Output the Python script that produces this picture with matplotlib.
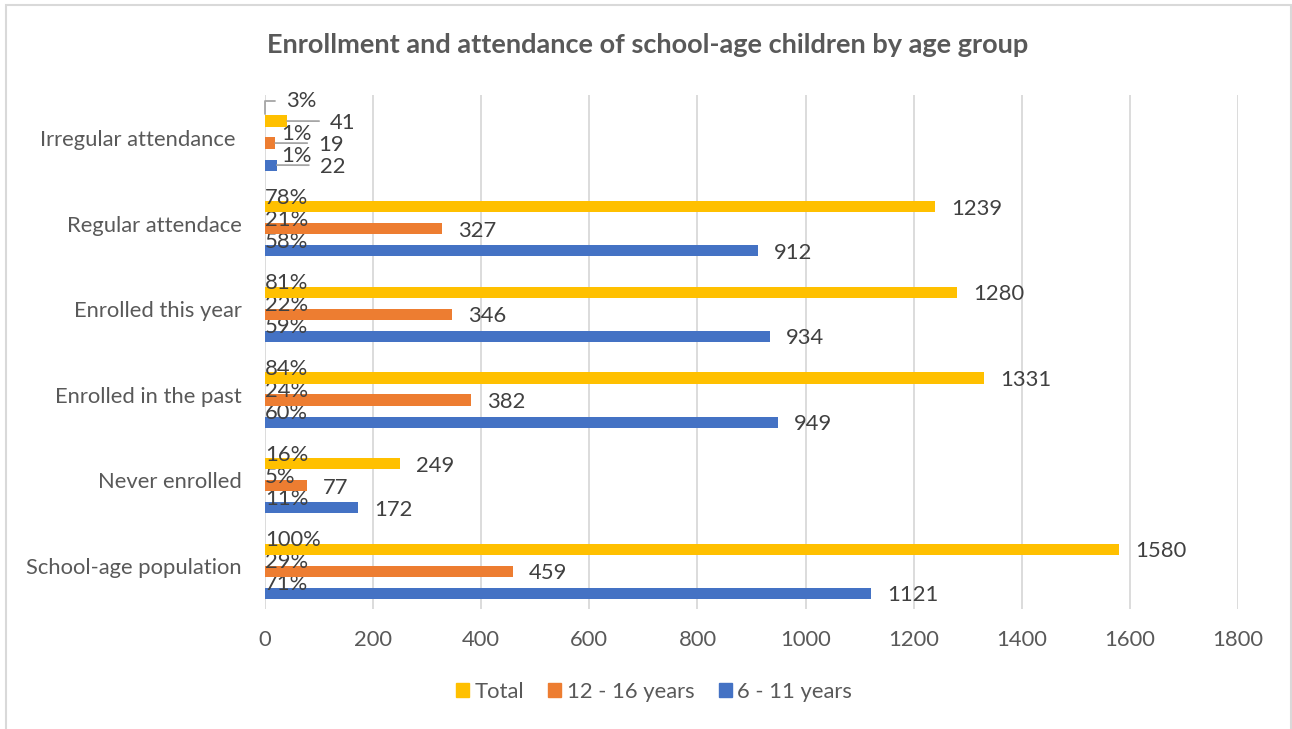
import matplotlib
matplotlib.use("Agg")
import matplotlib.pyplot as plt
from matplotlib.patches import Rectangle, Patch

plt.rcParams['font.family'] = ['Lato', 'DejaVu Sans']

# --- DATA ---
categories = ["School-age population", "Never enrolled", "Enrolled in the past",
              "Enrolled this year", "Regular attendace", "Irregular attendance "]
age_6_11 = [1121, 172, 949, 934, 912, 22]
age_12_16 = [459, 77, 382, 346, 327, 19]
total = [1580, 249, 1331, 1280, 1239, 41]
series_names = ["6 - 11 years", "12 - 16 years", "Total"]
xticks = [0, 200, 400, 600, 800, 1000, 1200, 1400, 1600, 1800]

population = total[0]
colors = ["#4472C4", "#ED7D31", "#FFC000"]
text_col = "#404040"
axis_col = "#595959"
grid_col = "#D9D9D9"
fs = 15.8

fig = plt.figure(figsize=(12.92, 7.29), dpi=100)
ax = fig.add_axes([265 / 1292, 1 - 609 / 729, 973 / 1292, 514 / 729])

# frame round the whole chart
fig.patches.append(Rectangle((5.5 / 1292, -0.1), (1291 - 5.5) / 1292, 1.1 - 5.5 / 729,
                             transform=fig.transFigure, fill=False,
                             edgecolor=grid_col, lw=1.5, clip_on=False))

offsets = [-0.257, 0.0, 0.257]
bar_h = 0.13
all_series = [age_6_11, age_12_16, total]

for s, (vals, off) in enumerate(zip(all_series, offsets)):
    ys = [i + off for i in range(len(categories))]
    ax.barh(ys, vals, height=bar_h, color=colors[s], zorder=3)
    for y, v in zip(ys, vals):
        pct = f"{round(v / population * 100):.0f}%"
        small = v < 50
        # value label, pushed out with a leader line when the bar is tiny
        if small:
            ax.annotate(str(v), xy=(v, y), xytext=(31, -1.5), textcoords="offset points",
                        ha="left", va="center", fontsize=fs, color=text_col,
                        arrowprops=dict(arrowstyle="-", color="#A6A6A6", lw=1.3,
                                        shrinkA=6, shrinkB=0, relpos=(0, 0.6)))
        else:
            ax.annotate(str(v), xy=(v, y), xytext=(11.5, -1.5), textcoords="offset points",
                        ha="left", va="center", fontsize=fs, color=text_col)
        # share of the school-age population
        if small and s == 2:
            ax.annotate(pct, xy=(0, y), xytext=(15, 14.5), textcoords="offset points",
                        ha="left", va="center", fontsize=fs, color=text_col,
                        arrowprops=dict(arrowstyle="-", color="#A6A6A6", lw=1.3,
                                        shrinkA=6, shrinkB=5, relpos=(0, 0.5),
                                        connectionstyle="angle,angleA=180,angleB=90,rad=0"))
        elif small:
            ax.annotate(pct, xy=(0, y), xytext=(12, 6.5), textcoords="offset points",
                        ha="left", va="center", fontsize=fs, color=text_col)
        else:
            ax.annotate(pct, xy=(0, y), xytext=(0, 6.5), textcoords="offset points",
                        ha="left", va="center", fontsize=fs, color=text_col)

ax.set_xlim(0, 1800)
ax.set_ylim(-0.439, 5.561)
ax.set_xticks(xticks)
ax.set_xticklabels([str(t) for t in xticks])
ax.set_yticks([i + 0.061 for i in range(len(categories))])
ax.set_yticklabels(categories)
ax.tick_params(axis="x", length=0, pad=15, labelsize=fs, labelcolor=axis_col)
ax.tick_params(axis="y", length=0, pad=17, labelsize=fs, labelcolor=axis_col)
ax.grid(axis="x", color=grid_col, lw=1.3, zorder=0)
for sp in ax.spines.values():
    sp.set_visible(False)

fig.text(648 / 1292, 1 - 45 / 729, "Enrollment and attendance of school-age children by age group",
         ha="center", va="center", fontsize=19.5, fontweight="bold", color=axis_col)

handles = [Patch(color=colors[2]), Patch(color=colors[1]), Patch(color=colors[0])]
fig.legend(handles, [series_names[2], series_names[1], series_names[0]],
           loc="center", bbox_to_anchor=(654 / 1292, 1 - 692 / 729), ncol=3, frameon=False,
           fontsize=fs, labelcolor=axis_col, handlelength=0.6, handleheight=0.6,
           handletextpad=0.25, columnspacing=1.1)

fig.savefig("out.png", dpi=100)
